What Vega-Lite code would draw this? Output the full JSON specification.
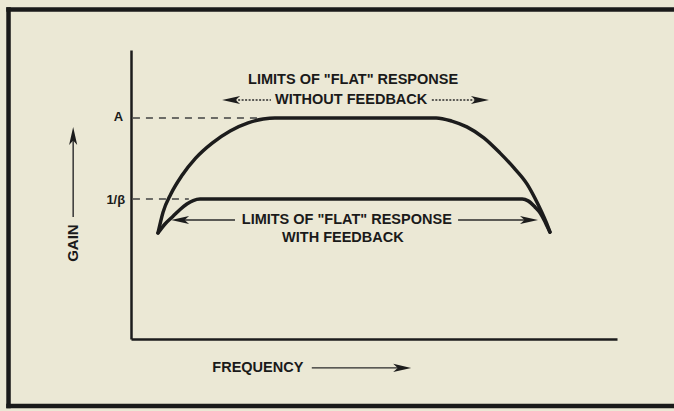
{
  "$schema": "https://vega.github.io/schema/vega-lite/v6.json",
  "width": 486,
  "height": 289,
  "padding": {"left": 131, "top": 50, "right": 57, "bottom": 72},
  "autosize": {"type": "none"},
  "background": "#ebe8d5",
  "config": {"view": {"stroke": null}},
  "datasets": {
    "curves": [
      {"series": "without feedback", "freq": 5.56, "gain": 36.7},
      {"series": "without feedback", "freq": 6.6, "gain": 43.9},
      {"series": "without feedback", "freq": 8.2, "gain": 50.2},
      {"series": "without feedback", "freq": 10.4, "gain": 56.4},
      {"series": "without feedback", "freq": 13.3, "gain": 62.6},
      {"series": "without feedback", "freq": 16.7, "gain": 67.8},
      {"series": "without feedback", "freq": 20.4, "gain": 72.0},
      {"series": "without feedback", "freq": 24.1, "gain": 74.8},
      {"series": "without feedback", "freq": 27.2, "gain": 76.1},
      {"series": "without feedback", "freq": 29.6, "gain": 76.5},
      {"series": "without feedback", "freq": 62.8, "gain": 76.5},
      {"series": "without feedback", "freq": 66.0, "gain": 75.4},
      {"series": "without feedback", "freq": 69.1, "gain": 73.4},
      {"series": "without feedback", "freq": 72.6, "gain": 69.6},
      {"series": "without feedback", "freq": 75.9, "gain": 64.4},
      {"series": "without feedback", "freq": 78.8, "gain": 59.2},
      {"series": "without feedback", "freq": 81.5, "gain": 53.6},
      {"series": "without feedback", "freq": 83.1, "gain": 48.8},
      {"series": "without feedback", "freq": 84.4, "gain": 44.3},
      {"series": "without feedback", "freq": 85.4, "gain": 40.5},
      {"series": "without feedback", "freq": 86.2, "gain": 37.0},
      {"series": "with feedback", "freq": 5.56, "gain": 36.7},
      {"series": "with feedback", "freq": 7.0, "gain": 39.8},
      {"series": "with feedback", "freq": 8.6, "gain": 42.4},
      {"series": "with feedback", "freq": 10.1, "gain": 44.8},
      {"series": "with feedback", "freq": 11.5, "gain": 46.7},
      {"series": "with feedback", "freq": 12.8, "gain": 47.9},
      {"series": "with feedback", "freq": 14.2, "gain": 48.4},
      {"series": "with feedback", "freq": 80.5, "gain": 48.4},
      {"series": "with feedback", "freq": 81.7, "gain": 47.8},
      {"series": "with feedback", "freq": 83.1, "gain": 45.7},
      {"series": "with feedback", "freq": 84.2, "gain": 43.6},
      {"series": "with feedback", "freq": 85.0, "gain": 41.2},
      {"series": "with feedback", "freq": 85.6, "gain": 39.1},
      {"series": "with feedback", "freq": 86.2, "gain": 37.0}
    ],
    "levels": [
      {"level": "A", "x": 0.4, "x2": 26.1, "y": 76.5},
      {"level": "1/β", "x": 0.4, "x2": 11.9, "y": 48.4}
    ],
    "levelLabels": [
      {"text": "A", "x": -1.6, "y": 76.9},
      {"text": "1/β", "x": -1.2, "y": 48.1}
    ],
    "notes": [
      {"text": "LIMITS OF \"FLAT\" RESPONSE", "x": 45.7, "y": 89.6},
      {"text": "WITHOUT FEEDBACK", "x": 45.3, "y": 82.7},
      {"text": "LIMITS OF \"FLAT\" RESPONSE", "x": 44.4, "y": 41.2},
      {"text": "WITH FEEDBACK", "x": 43.6, "y": 34.9},
      {"text": "FREQUENCY", "x": 26.1, "y": -10.0}
    ],
    "shafts": [
      {"kind": "dotted", "x": 20.6, "x2": 28.8, "y": 82.7, "y2": 82.7},
      {"kind": "dotted", "x": 61.9, "x2": 71.8, "y": 82.7, "y2": 82.7},
      {"kind": "solid", "x": 10.1, "x2": 21.4, "y": 41.2, "y2": 41.2},
      {"kind": "solid", "x": 67.3, "x2": 81.9, "y": 41.2, "y2": 41.2},
      {"kind": "solid", "x": 37.2, "x2": 55.8, "y": -10.0, "y2": -10.0},
      {"kind": "solid", "x": -11.9, "x2": -11.9, "y": 42.2, "y2": 70.2}
    ],
    "heads": [
      {"dir": "left", "x": 20.6, "y": 82.7},
      {"dir": "right", "x": 71.8, "y": 82.7},
      {"dir": "left", "x": 10.1, "y": 41.2},
      {"dir": "right", "x": 81.9, "y": 41.2},
      {"dir": "right", "x": 55.8, "y": -10.0},
      {"dir": "up", "x": -11.9, "y": 70.2}
    ],
    "frame": [
      {"edge": "left", "x": -25.2, "x2": -25.2, "y": -23.2, "y2": 114.0},
      {"edge": "top", "x": -25.2, "x2": 140, "y": 114.0, "y2": 114.0},
      {"edge": "bottom", "x": -25.2, "x2": 140, "y": -23.2, "y2": -23.2}
    ],
    "gainLabel": [
      {"text": "GAIN", "x": -11.9, "y": 33.2}
    ]
  },
  "layer": [
    {
      "data": {"name": "frame"},
      "mark": {"type": "rule", "color": "#1a1a1a", "strokeWidth": 4.5, "clip": false, "strokeCap": "square"},
      "encoding": {
        "x": {"field": "x", "type": "quantitative", "scale": {"domain": [0, 100], "nice": false, "zero": false},
          "axis": {"domain": true, "domainColor": "#1c1c1c", "domainWidth": 2.5, "ticks": false, "labels": false, "grid": false, "title": null}},
        "x2": {"field": "x2"},
        "y": {"field": "y", "type": "quantitative", "scale": {"domain": [0, 100], "nice": false, "zero": false},
          "axis": {"domain": true, "domainColor": "#1c1c1c", "domainWidth": 2.5, "ticks": false, "labels": false, "grid": false, "title": null}},
        "y2": {"field": "y2"}
      }
    },
    {
      "data": {"name": "levels"},
      "mark": {"type": "rule", "color": "#6b6b66", "strokeWidth": 2, "strokeDash": [7, 6]},
      "encoding": {
        "x": {"field": "x", "type": "quantitative"},
        "x2": {"field": "x2"},
        "y": {"field": "y", "type": "quantitative"}
      }
    },
    {
      "data": {"name": "curves"},
      "mark": {"type": "line", "color": "#1c1c1c", "strokeWidth": 3.5, "interpolate": "monotone", "strokeCap": "round"},
      "encoding": {
        "x": {"field": "freq", "type": "quantitative"},
        "y": {"field": "gain", "type": "quantitative"},
        "detail": {"field": "series"}
      }
    },
    {
      "data": {"name": "shafts"},
      "mark": {"type": "rule", "color": "#2a2a2a", "strokeWidth": 1.4, "clip": false},
      "encoding": {
        "x": {"field": "x", "type": "quantitative"},
        "x2": {"field": "x2"},
        "y": {"field": "y", "type": "quantitative"},
        "y2": {"field": "y2"},
        "strokeDash": {"field": "kind", "type": "nominal", "legend": null,
          "scale": {"domain": ["solid", "dotted"], "range": [[1, 0], [2, 1.5]]}}
      }
    },
    {
      "data": {"name": "heads"},
      "mark": {"type": "point", "filled": true, "color": "#1c1c1c", "opacity": 1, "size": 324, "clip": false},
      "encoding": {
        "x": {"field": "x", "type": "quantitative"},
        "y": {"field": "y", "type": "quantitative"},
        "shape": {
          "field": "dir", "type": "nominal", "legend": null,
          "scale": {
            "domain": ["left", "right", "up"],
            "range": ["M-1,0L1,-0.45L0.5,0L1,0.45Z", "M1,0L-1,-0.45L-0.5,0L-1,0.45Z", "M0,-1L-0.45,1L0,0.5L0.45,1Z"]
          }
        }
      }
    },
    {
      "data": {"name": "notes"},
      "mark": {"type": "text", "font": "Liberation Sans", "fontWeight": "bold", "fontSize": 14.5, "color": "#1a1a1a", "baseline": "middle", "align": "center", "clip": false},
      "encoding": {
        "x": {"field": "x", "type": "quantitative"},
        "y": {"field": "y", "type": "quantitative"},
        "text": {"field": "text"}
      }
    },
    {
      "data": {"name": "levelLabels"},
      "mark": {"type": "text", "font": "Liberation Sans", "fontWeight": "bold", "fontSize": 13, "color": "#1a1a1a", "baseline": "middle", "align": "right", "clip": false},
      "encoding": {
        "x": {"field": "x", "type": "quantitative"},
        "y": {"field": "y", "type": "quantitative"},
        "text": {"field": "text"}
      }
    },
    {
      "data": {"name": "gainLabel"},
      "mark": {"type": "text", "font": "Liberation Sans", "fontWeight": "bold", "fontSize": 15, "color": "#1a1a1a", "baseline": "middle", "align": "center", "angle": 270, "clip": false},
      "encoding": {
        "x": {"field": "x", "type": "quantitative"},
        "y": {"field": "y", "type": "quantitative"},
        "text": {"field": "text"}
      }
    }
  ]
}
